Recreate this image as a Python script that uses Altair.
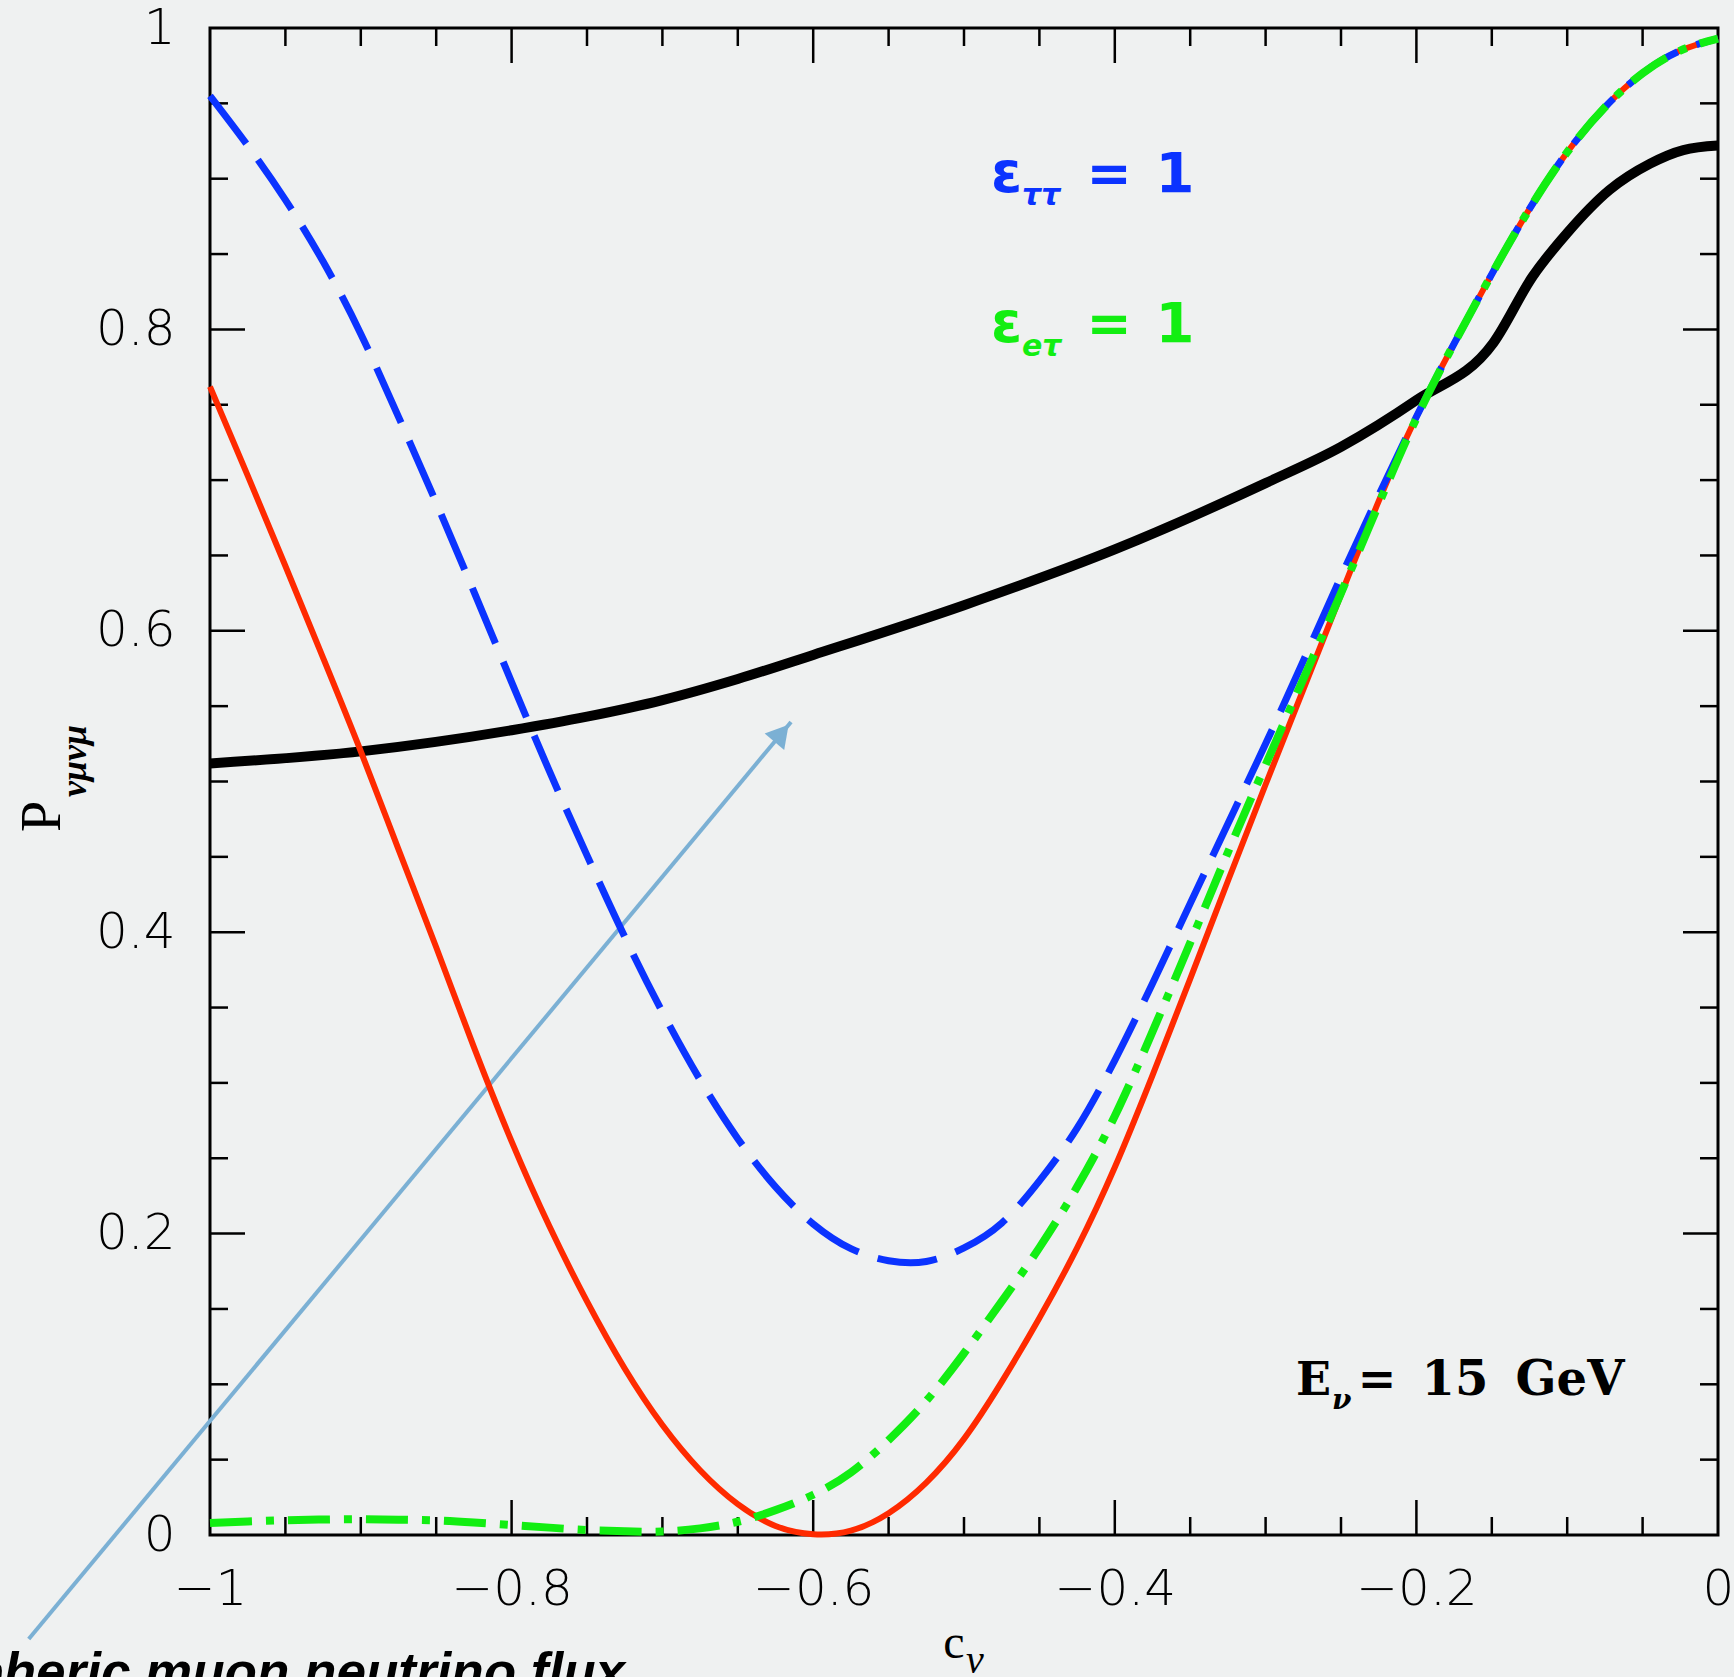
import altair as alt
import pandas as pd

# ---------------- data ----------------
black_c = [-1.0, -0.9, -0.8, -0.75, -0.7, -0.65, -0.6, -0.5, -0.4, -0.3, -0.25, -0.2, -0.149,
           -0.123, -0.1, -0.072, -0.045, -0.023, 0.0]
black_p = [0.512, 0.520, 0.534, 0.543, 0.554, 0.568, 0.584, 0.617, 0.654, 0.698, 0.722, 0.753, 0.791,
           0.835, 0.864, 0.8925, 0.910, 0.919, 0.922]

# the three coloured curves share the same x grid
grid_c = [-1.0, -0.975, -0.95, -0.925, -0.9, -0.875, -0.85, -0.825, -0.8, -0.775, -0.75, -0.725,
          -0.7, -0.675, -0.65, -0.625, -0.6, -0.575, -0.55, -0.525, -0.5, -0.475, -0.45, -0.425,
          -0.4, -0.375, -0.35, -0.325, -0.3, -0.275, -0.25, -0.225, -0.2, -0.175, -0.15, -0.125,
          -0.1, -0.075, -0.05, -0.025, 0.0]

red_p = [0.762, 0.703, 0.643, 0.582, 0.520, 0.455, 0.390, 0.3237, 0.2612, 0.205, 0.155, 0.1105,
         0.073, 0.043, 0.0205, 0.006, 0.0005, 0.0029, 0.0145, 0.0348, 0.0638, 0.1016, 0.144, 0.1905,
         0.244, 0.305, 0.369, 0.434, 0.498, 0.561, 0.624, 0.686, 0.742, 0.7906, 0.8367, 0.880,
         0.9176, 0.9474, 0.970, 0.985, 0.993]

blue_p = [0.955, 0.922, 0.886, 0.845, 0.797, 0.742, 0.685, 0.626, 0.566, 0.507, 0.451, 0.397,
          0.347, 0.302, 0.263, 0.231, 0.2064, 0.190, 0.182, 0.1815, 0.1905, 0.207, 0.235, 0.27,
          0.315, 0.366, 0.419, 0.472, 0.525, 0.58, 0.636, 0.69, 0.742, 0.7906, 0.8367, 0.880,
          0.9176, 0.9474, 0.970, 0.985, 0.993]

green_p = [0.008, 0.009, 0.0098, 0.0103, 0.0105, 0.0102, 0.0097, 0.0083, 0.0066, 0.0049, 0.0033,
           0.0025, 0.0023, 0.0044, 0.0088, 0.0165, 0.0267, 0.0415, 0.063, 0.089, 0.1206, 0.155,
           0.1907, 0.231, 0.278, 0.334, 0.393, 0.453, 0.511, 0.568, 0.625, 0.684, 0.741, 0.7906,
           0.8367, 0.880, 0.9176, 0.9474, 0.970, 0.985, 0.993]

# annotation arrow (data coordinates)
arrow_from = [-1.1202, -0.069]
arrow_to = [-0.6147, 0.5395]
arrow_head = [-0.621, 0.532]

# axis tick values and labels
x_label_vals = [-1, -0.8, -0.6, -0.4, -0.2, 0]
y_label_vals = [0, 0.2, 0.4, 0.6, 0.8, 1]
x_major = [-0.8, -0.6, -0.4, -0.2]
x_minor = [-0.95, -0.9, -0.85, -0.75, -0.7, -0.65, -0.55, -0.5, -0.45, -0.35, -0.3, -0.25,
           -0.15, -0.1, -0.05]
y_major = [0.2, 0.4, 0.6, 0.8]
y_minor = [0.05, 0.1, 0.15, 0.25, 0.3, 0.35, 0.45, 0.5, 0.55, 0.65, 0.7, 0.75, 0.85, 0.9, 0.95]

# ---------------- layout ----------------
W, H = 1508, 1507
PAD_L, PAD_T = 210, 28
MAJ, MIN = 35, 18

xs = alt.Scale(domain=[-1, 0], nice=False, zero=False)
ys = alt.Scale(domain=[0, 1], nice=False, zero=False)

LABEL_FONT = "DejaVu Sans"
XA = alt.Axis(values=x_label_vals, format="~g", labelFont=LABEL_FONT, labelFontSize=50,
              labelFontWeight=200, labelPadding=29, ticks=False, domain=False, grid=False,
              title=None, labelColor="black", labelFlush=False, labelOverlap=False, orient="bottom")
YA = alt.Axis(values=y_label_vals, format="~g", labelFont=LABEL_FONT, labelFontSize=50,
              labelFontWeight=200, labelPadding=35, ticks=False, domain=False, grid=False,
              title=None, labelColor="black", labelFlush=False, labelOverlap=False, orient="left")


def X(field):
    return alt.X(field, scale=xs, axis=XA)


def Y(field):
    return alt.Y(field, scale=ys, axis=YA)


def curve(c, p, color, width, dash=None, interp="natural"):
    df = pd.DataFrame({"c": c, "p": p})
    kw = dict(color=color, strokeWidth=width, interpolate=interp, strokeCap="butt")
    if dash:
        kw["strokeDash"] = dash
    return alt.Chart(df).mark_line(**kw).encode(x=X("c:Q"), y=Y("p:Q"))


def xticks(vals, length, side):
    df = pd.DataFrame({"c": vals})
    if side == "bottom":
        y0, y1 = H, H - length
    else:
        y0, y1 = 0, length
    return alt.Chart(df).mark_rule(color="black", strokeWidth=2.5).encode(
        x=X("c:Q"), y=alt.value(y0), y2=alt.value(y1))


def yticks(vals, length, side):
    df = pd.DataFrame({"p": vals})
    if side == "left":
        x0, x1 = 0, length
    else:
        x0, x1 = W, W - length
    return alt.Chart(df).mark_rule(color="black", strokeWidth=2.5).encode(
        y=Y("p:Q"), x=alt.value(x0), x2=alt.value(x1))


def label(text, px, py, size, color="black", font="DejaVu Sans", weight="normal",
          style="normal", align="left", angle=0):
    df = pd.DataFrame({"t": [text]})
    return alt.Chart(df).mark_text(
        align=align, baseline="alphabetic", font=font, fontSize=size, fontWeight=weight,
        fontStyle=style, color=color, angle=angle,
    ).encode(text="t:N", x=alt.value(px - PAD_L), y=alt.value(py - PAD_T))


BLUE = "#0b33ff"
GREEN = "#12ee12"
RED = "#ff2a00"
ARROW = "#7bb0d4"

arrow_df = pd.DataFrame({"c": [arrow_from[0]], "p": [arrow_from[1]],
                         "c2": [arrow_to[0]], "p2": [arrow_to[1]]})
arrow_line = alt.Chart(arrow_df).mark_rule(color=ARROW, strokeWidth=4).encode(
    x=X("c:Q"), y=Y("p:Q"), x2="c2:Q", y2="p2:Q")
head_df = pd.DataFrame({"c": [arrow_head[0]], "p": [arrow_head[1]]})
arrow_tip = alt.Chart(head_df).mark_point(
    shape="triangle-up", filled=True, size=650, angle=40, color=ARROW, opacity=1,
).encode(x=X("c:Q"), y=Y("p:Q"))

layers = [
    curve(black_c, black_p, "black", 10, interp="monotone"),
    arrow_line, arrow_tip,
    xticks(x_major, MAJ, "bottom"), xticks(x_minor, MIN, "bottom"),
    xticks(x_major, MAJ, "top"), xticks(x_minor, MIN, "top"),
    yticks(y_major, MAJ, "left"), yticks(y_minor, MIN, "left"),
    yticks(y_major, MAJ, "right"), yticks(y_minor, MIN, "right"),
    curve(grid_c, red_p, RED, 6),
    curve(grid_c, blue_p, BLUE, 7, dash=[60, 20]),
    curve(grid_c, green_p, GREEN, 8, dash=[42, 14, 8, 14]),
    # epsilon labels
    label("ε", 991, 192, 56, BLUE, weight="bold"),
    label("ττ", 1022, 205, 30, BLUE, weight="bold", style="italic"),
    label("=", 1109, 192, 54, BLUE, weight="bold", align="center"),
    label("1", 1175, 192, 56, BLUE, weight="bold", align="center"),
    label("ε", 991, 342, 56, GREEN, weight="bold"),
    label("eτ", 1022, 356, 30, GREEN, weight="bold", style="italic"),
    label("=", 1109, 342, 54, GREEN, weight="bold", align="center"),
    label("1", 1175, 342, 56, GREEN, weight="bold", align="center"),
    # energy label
    label("E", 1296, 1395, 46, font="DejaVu Serif", weight="bold"),
    label("ν", 1332, 1409, 28, font="DejaVu Serif", weight="bold", style="italic"),
    label("=", 1377, 1395, 46, font="DejaVu Serif", weight="bold", align="center"),
    label("15", 1455, 1395, 48, font="DejaVu Serif", weight="bold", align="center"),
    label("GeV", 1570, 1395, 48, font="DejaVu Serif", weight="bold", align="center"),
    # axis titles
    label("c", 954, 1658, 48, font="Liberation Serif", align="center"),
    label("ν", 966, 1673, 40, font="Liberation Serif", style="italic"),
    label("P", 60, 832, 56, font="Liberation Serif", angle=270),
    label("νμνμ", 86, 797, 36, font="Liberation Serif", weight="bold", style="italic", angle=270),
    # arrow caption (partly outside the picture)
    label("Atmospheric muon neutrino flux", 625, 1690, 53, font="Liberation Sans",
          weight="bold", style="italic", align="right"),
]

chart = alt.layer(*layers).properties(
    width=W, height=H,
    autosize=alt.AutoSizeParams(type="none"),
    padding={"left": PAD_L, "top": PAD_T, "right": 1734 - PAD_L - W, "bottom": 1677 - PAD_T - H},
).configure(background="#eff1f1").configure_view(stroke="black", strokeWidth=3)

chart.save("out.html", embed_options={"renderer": "svg", "actions": False})
